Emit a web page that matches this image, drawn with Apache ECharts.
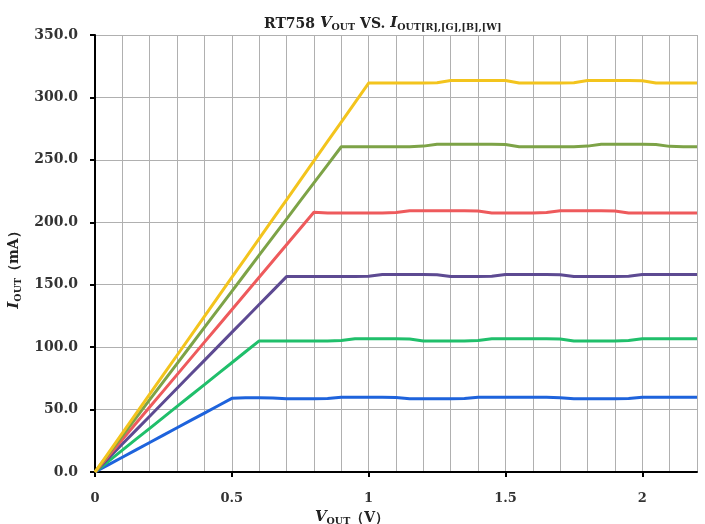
<!DOCTYPE html>
<html>
<head>
<meta charset="utf-8">
<script src="https://cdn.jsdelivr.net/npm/echarts@6/dist/echarts.min.js"></script>
<style>html,body{margin:0;padding:0;background:#fff}#c{width:705px;height:524px}</style>
</head>
<body>
<div id="c"></div>
<script>
// VOUT (V)
const VOUT = [0,0.05,0.1,0.15,0.2,0.25,0.3,0.35,0.4,0.45,0.5,0.55,0.6,0.65,0.7,0.75,0.8,0.85,0.9,0.95,1.0,1.05,1.1,1.15,1.2,1.25,1.3,1.35,1.4,1.45,1.5,1.55,1.6,1.65,1.7,1.75,1.8,1.85,1.9,1.95,2.0,2.05,2.1,2.15,2.2];
// IOUT (mA) per curve
const yellow = [0,15.6,31.2,46.7,62.3,77.9,93.5,109,124.6,140.2,155.8,171.3,186.9,202.5,218,233.6,249.2,264.8,280.3,295.9,311.5,
  311.5,311.5,311.5,311.5,311.8,313.5,313.5,313.5,313.5,313.5,311.5,311.5,311.5,311.5,311.8,313.5,313.5,313.5,313.5,313.3,311.5,311.5,311.5,311.5];
const olive = [0,14.5,28.9,43.4,57.9,72.4,86.8,101.3,115.8,130.2,144.7,159.2,173.7,188.1,202.6,217.1,231.5,246,260.5,
  260.5,260.5,260.5,260.5,260.5,261,262.5,262.5,262.5,262.5,262.5,262.3,260.5,260.5,260.5,260.5,260.5,261,262.5,262.5,262.5,262.5,262.3,260.8,260.5,260.5];
const red = [0,13,26,39,52,65,78,91,104,117,130,143,156,169,182,195,208,
  207.5,207.5,207.5,207.5,207.5,207.8,209.3,209.3,209.3,209.3,209.3,209,207.5,207.5,207.5,207.5,207.8,209.3,209.3,209.3,209.3,209,207.5,207.5,207.5,207.5,207.5,207.5];
const purple = [0,11.2,22.4,33.5,44.7,55.9,67.1,78.3,89.4,100.6,111.8,123,134.1,145.3,156.5,
  156.5,156.5,156.5,156.5,156.5,156.8,158.2,158.2,158.2,158.2,158,156.5,156.5,156.5,156.8,158.2,158.2,158.2,158.2,158,156.5,156.5,156.5,156.5,156.8,158.2,158.2,158.2,158.2,158.2];
const green = [0,8.75,17.5,26.3,35,43.8,52.5,61.3,70,78.8,87.5,96.3,105,
  105,105,105,105,105,105.3,106.8,106.8,106.8,106.8,106.6,105,105,105,105,105.3,106.8,106.8,106.8,106.8,106.8,106.6,105,105,105,105,105.3,106.8,106.8,106.8,106.8,106.8];
const blue = [0,5.9,11.8,17.7,23.6,29.5,35.4,41.3,47.2,53.1,59,
  59.5,59.5,59.3,58.7,58.7,58.7,58.8,59.8,59.8,59.8,59.8,59.7,58.7,58.7,58.7,58.7,58.8,59.8,59.8,59.8,59.8,59.8,59.8,59.5,58.7,58.7,58.7,58.7,58.9,59.8,59.8,59.8,59.8,59.8];
const yTicks = [0,50,100,150,200,250,300,350];
const xLabelTicks = [0,0.5,1,1.5,2];

const curves = [
  {d: blue, c: '#1E63DC'},
  {d: green, c: '#20BF6B'},
  {d: purple, c: '#5D4A92'},
  {d: red, c: '#EE5A5C'},
  {d: olive, c: '#7DA347'},
  {d: yellow, c: '#F3C41D'}
];

const serif = 'DejaVu Serif';
const richStyles = {
  b: {fontFamily: serif, fontWeight: 'bold', fontSize: 14, color: '#222', lineHeight: 18, verticalAlign: 'bottom'},
  i: {fontFamily: serif, fontWeight: 'bold', fontStyle: 'italic', fontSize: 15, color: '#222', lineHeight: 18, verticalAlign: 'bottom'},
  s: {fontFamily: serif, fontWeight: 'bold', fontSize: 9.5, color: '#222', lineHeight: 12, verticalAlign: 'bottom', padding: [0,0,-2,0]}
};
const chart = echarts.init(document.getElementById('c'));
chart.setOption({
  animation: false,
  backgroundColor: '#fff',
  title: {
    left: 259, top: 6,
    text: '{b|RT758 }{i|V}{s|OUT}{b| VS. }{i|I}{s|OUT[R],[G],[B],[W]}',
    textStyle: {
      rich: {
        b: {fontFamily: serif, fontWeight: 'bold', fontSize: 14, color: '#222', lineHeight: 20, verticalAlign: 'bottom'},
        i: {fontFamily: serif, fontWeight: 'bold', fontStyle: 'italic', fontSize: 15, color: '#222', lineHeight: 20, verticalAlign: 'bottom'},
        s: {fontFamily: serif, fontWeight: 'bold', fontSize: 9.5, color: '#222', lineHeight: 14, verticalAlign: 'bottom', padding: [0,0,-2,0]}
      }
    }
  },
  grid: {left: 95, right: 8, top: 35, bottom: 52, containLabel: false, outerBoundsMode: 'none'},
  xAxis: [{
    type: 'value', min: 0, max: 2.2, interval: 0.1,
    axisLine: {show: false},
    axisTick: {show: false},
    axisLabel: {show: false},
    splitLine: {show: true, lineStyle: {color: '#b0b0b0', width: 1}}
  }, {
    type: 'value', min: 0, max: 2.2, interval: 0.5, position: 'bottom',
    axisLine: {show: true, onZero: false, lineStyle: {color: '#000', width: 2}},
    axisTick: {show: true, length: 5, lineStyle: {color: '#000', width: 2}},
    splitLine: {show: false},
    axisLabel: {
      margin: 20, fontFamily: serif, fontWeight: 'bold', fontSize: 13, color: '#333',
      showMaxLabel: false,
      formatter: v => xLabelTicks.indexOf(Math.round(v*10)/10) >= 0 ? String(Math.round(v*10)/10) : ''
    },
    name: '{i|V}{s|OUT}{b|（V）}',
    nameLocation: 'middle', nameGap: 31,
    nameTextStyle: {padding: [0, 88, 0, 0], rich: richStyles}
  }],
  yAxis: {
    type: 'value', min: 0, max: 350, interval: 50,
    axisLine: {show: true, lineStyle: {color: '#000', width: 2}},
    axisTick: {show: true, length: 5, lineStyle: {color: '#000', width: 2}},
    splitLine: {show: true, lineStyle: {color: '#b0b0b0', width: 1}},
    axisLabel: {
      margin: 17, fontFamily: serif, fontWeight: 'bold', fontSize: 14, color: '#333',
      formatter: v => yTicks.indexOf(v) >= 0 ? v.toFixed(1) : ''
    },
    name: '{i|I}{s|OUT}{b|（mA）}',
    nameLocation: 'middle', nameGap: 63, nameRotate: 90,
    nameTextStyle: {padding: [0, 26, 0, 0], rich: richStyles}
  },
  series: curves.map(s => ({
    type: 'line', xAxisIndex: 0,
    data: VOUT.map((v, i) => [v, s.d[i]]),
    showSymbol: false, symbol: 'none',
    smooth: false,
    lineStyle: {color: s.c, width: 3, join: 'round'},
    itemStyle: {color: s.c}
  }))
});
</script>
</body>
</html>
